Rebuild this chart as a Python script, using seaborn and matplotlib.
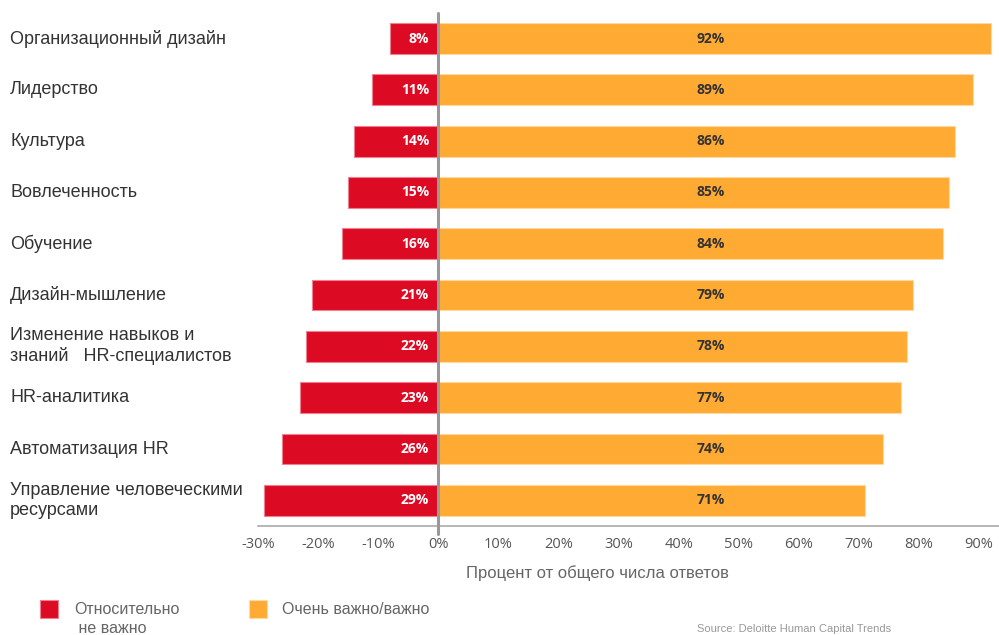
import matplotlib
matplotlib.use("Agg")
import matplotlib.pyplot as plt
import seaborn as sns
import pandas as pd
from matplotlib.patches import Rectangle

categories = [
    "Организационный дизайн",
    "Лидерство",
    "Культура",
    "Вовлеченность",
    "Обучение",
    "Дизайн-мышление",
    "Изменение навыков и\nзнаний   HR-специалистов",
    "HR-аналитика",
    "Автоматизация HR",
    "Управление человеческими\nресурсами",
]
not_important = [8, 11, 14, 15, 16, 21, 22, 23, 26, 29]
important = [92, 89, 86, 85, 84, 79, 78, 77, 74, 71]
xticks = [-30, -20, -10, 0, 10, 20, 30, 40, 50, 60, 70, 80, 90]
legend_labels = ["Относительно\n не важно", "Очень важно/важно"]
x_label = "Процент от общего числа ответов"

RED = "#DC0A23"
ORANGE = "#FFAA33"

sns.set_style("white")
plt.rcParams["font.family"] = ["Liberation Sans", "DejaVu Sans"]

df = pd.DataFrame({
    "cat": categories,
    "neg": [-v for v in not_important],
    "pos": important,
})

fig = plt.figure(figsize=(9.99, 6.35), dpi=100)
ax = fig.add_axes([0.258, 0.1717, 0.745, 0.808])

sns.barplot(data=df, y="cat", x="pos", color=ORANGE, saturation=1, width=0.6,
            edgecolor="#FFD9A0", linewidth=0.8, ax=ax, orient="h")
sns.barplot(data=df, y="cat", x="neg", color=RED, saturation=1, width=0.6,
            edgecolor="#F08090", linewidth=0.8, ax=ax, orient="h")

ax.set_xlim(-29.7, 93.8)
ax.set_ylim(9.5, -0.5)
ax.set_xticks(xticks)
ax.set_xticklabels([f"{t}%" for t in xticks], family=["Open Sans", "DejaVu Sans"],
                   fontsize=10.5)
ax.tick_params(axis="x", colors="#999999", labelcolor="#555555", length=5, width=1,
               pad=3, direction="out")
ax.set_yticks([])
ax.set_xlabel("")
ax.set_ylabel("")
for s in ["left", "right", "top"]:
    ax.spines[s].set_visible(False)
ax.spines["bottom"].set_color("#aaaaaa")
ax.spines["bottom"].set_linewidth(1.2)

ax.axvline(0, ymin=-0.015, ymax=1, color="#999999", lw=2.2, clip_on=False, zorder=5)

for i, (n, p) in enumerate(zip(not_important, important)):
    ax.text(-1.5, i, f"{n}%", ha="right", va="center", color="white",
            fontweight="bold", fontsize=10, family=["Open Sans", "DejaVu Sans"])
    ax.text(45.3, i, f"{p}%", ha="center", va="center", color="#333333",
            fontweight="bold", fontsize=10, family=["Open Sans", "DejaVu Sans"])

# category labels
for i, c in enumerate(categories):
    y_disp = ax.transData.transform((0, i))[1]
    y_fig = fig.transFigure.inverted().transform((0, y_disp))[1]
    fig.text(10 / 999, y_fig, c, ha="left", va="center", fontsize=13,
             color="#333333", linespacing=1.2)

fig.text(597 / 999, 1 - 573 / 635, x_label, ha="center", va="center",
         fontsize=12, color="#666666")

# legend
fig.add_artist(Rectangle((40 / 999, 1 - 618 / 635), 18 / 999, 18 / 635,
                         transform=fig.transFigure, facecolor=RED,
                         edgecolor="#F08090", lw=0.8))
fig.add_artist(Rectangle((249 / 999, 1 - 618 / 635), 18 / 999, 18 / 635,
                         transform=fig.transFigure, facecolor=ORANGE,
                         edgecolor="#FFD9A0", lw=0.8))
fig.text(74 / 999, 1 - 602 / 635, legend_labels[0], ha="left", va="top",
         fontsize=11.5, color="#666666", linespacing=1.3)
fig.text(282 / 999, 1 - 602 / 635, legend_labels[1], ha="left", va="top",
         fontsize=11.5, color="#666666")

fig.text(697 / 999, 1 / 635, "Source: Deloitte Human Capital Trends", ha="left",
         va="bottom", fontsize=8, color="#999999")

fig.savefig("out.png", dpi=100)
